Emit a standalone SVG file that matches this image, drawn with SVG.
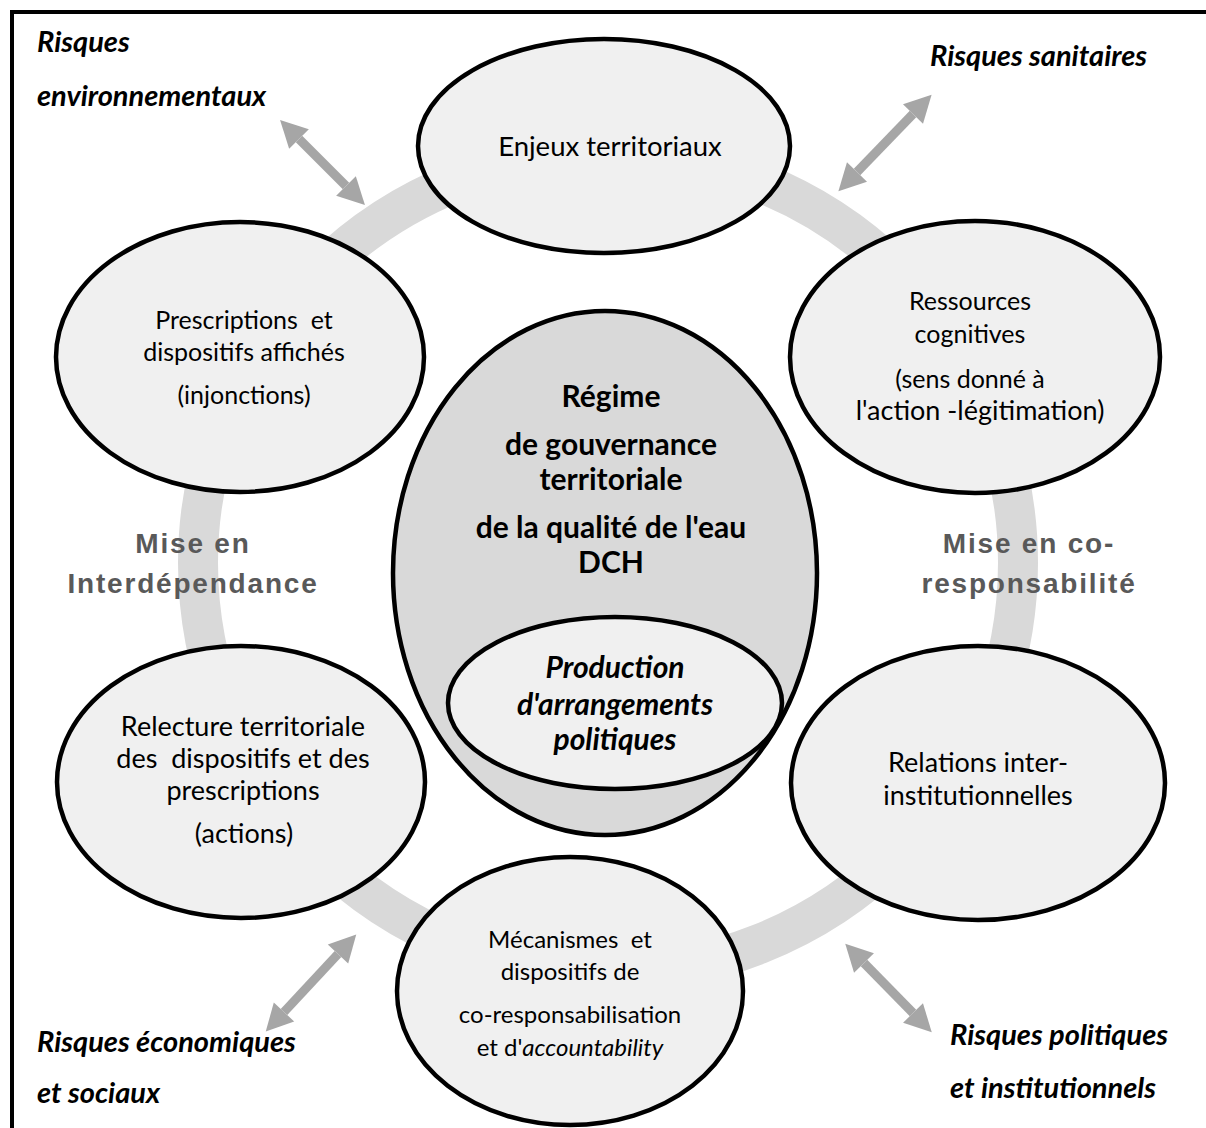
<svg xmlns="http://www.w3.org/2000/svg" width="1206" height="1128" viewBox="0 0 1206 1128">
<style>
.node{fill:#f0f0f0;stroke:#000;stroke-width:4.5}
.core{fill:#d9d9d9;stroke:#000;stroke-width:4.5}
.t{font-family:Lato,"Liberation Sans",sans-serif;font-size:24px;fill:#000;text-anchor:middle;white-space:pre}
.s25{font-size:25px}
.s27{font-size:27px}
.s28{font-size:27.5px}
.b{font-family:Lato,"Liberation Sans",sans-serif;font-size:30px;font-weight:bold;fill:#000;text-anchor:middle}
.bi{font-family:Lato,"Liberation Sans",sans-serif;font-size:29px;font-weight:bold;font-style:italic;fill:#000}
.g{font-family:"Liberation Sans",Arial,sans-serif;font-size:28px;font-weight:bold;fill:#595959;text-anchor:middle;letter-spacing:1.8px}
.arr{stroke:#a6a6a6;stroke-width:9;fill:none;marker-start:url(#head);marker-end:url(#head)}
</style>
<defs>
<marker id="head" markerUnits="userSpaceOnUse" markerWidth="30" markerHeight="30" viewBox="0 -14 26 28" refX="0" refY="0" orient="auto-start-reverse">
<path d="M0,-13 L25,0 L0,13 Z" fill="#a6a6a6"/>
</marker>
</defs>
<rect width="1206" height="1128" fill="#fff"/>
<g id="frame" stroke="#000" stroke-width="4">
<line x1="12" y1="12" x2="1206" y2="12"/>
<line x1="12" y1="10" x2="12" y2="1128"/>
</g>
<g id="ring">
<circle cx="608" cy="563" r="410" fill="none" stroke="#d9d9d9" stroke-width="40"/>
</g>
<g id="connectors">
<line class="arr" x1="299" y1="139" x2="346" y2="186"/>
<line class="arr" x1="913" y1="114" x2="857" y2="172"/>
<line class="arr" x1="338" y1="954" x2="284" y2="1012"/>
<line class="arr" x1="864" y1="963" x2="913" y2="1013"/>
</g>
<g id="enjeux">
<ellipse class="node" cx="604" cy="146" rx="186" ry="107"/>
<text class="t s28" x="610" y="156">Enjeux territoriaux</text>
</g>
<g id="prescriptions">
<ellipse class="node" cx="240" cy="357" rx="184" ry="135"/>
<text class="t s25" x="244" y="329" xml:space="preserve">Prescriptions  et</text>
<text class="t s25" x="244" y="361">dispositifs affichés</text>
<text class="t s25" x="244" y="404">(injonctions)</text>
</g>
<g id="ressources">
<ellipse class="node" cx="975" cy="357" rx="185" ry="136"/>
<text class="t s25" x="970" y="310">Ressources</text>
<text class="t s25" x="970" y="343">cognitives</text>
<text class="t s25" x="970" y="388">(sens donné à</text>
<text class="t s27" x="980" y="420">l'action -légitimation)</text>
</g>
<g id="relecture">
<ellipse class="node" cx="241" cy="782" rx="184" ry="136"/>
<text class="t s27" x="243" y="736">Relecture territoriale</text>
<text class="t s27" x="243" y="768" xml:space="preserve">des  dispositifs et des</text>
<text class="t s27" x="243" y="800">prescriptions</text>
<text class="t s27" x="244" y="843">(actions)</text>
</g>
<g id="relations">
<ellipse class="node" cx="978" cy="783" rx="187" ry="137"/>
<text class="t s27" x="978" y="772">Relations inter-</text>
<text class="t s27" x="978" y="805">institutionnelles</text>
</g>
<g id="mecanismes">
<ellipse class="node" cx="570" cy="991" rx="173" ry="134"/>
<text class="t" x="570" y="948" xml:space="preserve">Mécanismes  et</text>
<text class="t" x="570" y="980">dispositifs de</text>
<text class="t" x="570" y="1023">co-responsabilisation</text>
<text class="t" x="570" y="1056">et d'<tspan font-style="italic">accountability</tspan></text>
</g>
<g id="regime">
<ellipse class="core" cx="605" cy="573" rx="212" ry="262"/>
<text class="b" x="611" y="407">Régime</text>
<text class="b" x="611" y="455">de gouvernance</text>
<text class="b" x="611" y="490">territoriale</text>
<text class="b" x="611" y="538">de la qualité de l'eau</text>
<text class="b" x="611" y="573">DCH</text>
</g>
<g id="production">
<ellipse class="node" cx="615" cy="703" rx="167" ry="86"/>
<text class="b" x="615" y="678" font-style="italic">Production</text>
<text class="b" x="615" y="715" font-style="italic">d'arrangements</text>
<text class="b" x="615" y="750" font-style="italic">politiques</text>
</g>
<g id="labels">
<text class="bi" x="37" y="52">Risques</text>
<text class="bi" x="37" y="106">environnementaux</text>
<text class="bi" x="930" y="66">Risques sanitaires</text>
<text class="bi" x="37" y="1052">Risques économiques</text>
<text class="bi" x="37" y="1103">et sociaux</text>
<text class="bi" x="950" y="1045">Risques politiques</text>
<text class="bi" x="950" y="1098">et institutionnels</text>
<text class="g" x="193" y="553">Mise en</text>
<text class="g" x="193" y="593">Interdépendance</text>
<text class="g" x="1029" y="553">Mise en co-</text>
<text class="g" x="1029" y="593">responsabilité</text>
</g>
</svg>
